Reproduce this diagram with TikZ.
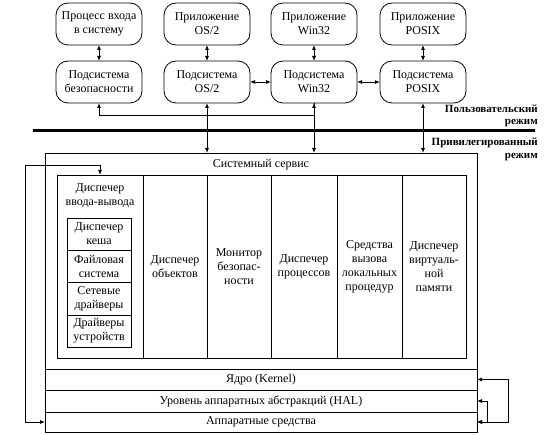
\documentclass[tikz,border=0pt]{standalone}
\usepackage{fontspec}
\setmainfont{Liberation Serif}
\usetikzlibrary{arrows.meta}
\begin{document}
\begin{tikzpicture}[x=1pt,y=-1pt,
  txt/.style={font=\fontsize{12}{14}\selectfont, align=center},
  rbox/.style={txt, draw, line width=0.8pt, rounded corners=12pt, minimum width=86pt, minimum height=42pt, inner sep=0pt, outer sep=0pt},
  sq/.style={txt, draw, line width=0.8pt, inner sep=0pt, outer sep=0pt},
  arr/.style={line width=0.8pt, {Latex[length=5pt,width=4pt]}-{Latex[length=5pt,width=4pt]}},
  arrs/.style={line width=0.8pt, {Latex[length=5pt,width=4pt]}-},
  mode/.style={font=\bfseries\fontsize{11}{14}\selectfont, anchor=east, inner sep=0pt}
]
\useasboundingbox (0,0) rectangle (549,435);
% top row
\node[rbox] (login) at (99,24) {Процесс входа\\в систему};
\node[rbox] (os2a)  at (207,24) {Приложение\\OS/2};
\node[rbox] (w32a)  at (314,24) {Приложение\\Win32};
\node[rbox] (posa)  at (423,24) {Приложение\\POSIX};
% second row
\node[rbox] (sec)  at (99,82) {Подсистема\\безопасности};
\node[rbox] (os2s) at (207,82) {Подсистема\\OS/2};
\node[rbox] (w32s) at (314,82) {Подсистема\\Win32};
\node[rbox] (poss) at (423,82) {Подсистема\\POSIX};
% system service frame
\node[sq, minimum width=432pt, minimum height=279pt, anchor=north west] (svc) at (45,153) {};
\node[txt] (svct) at (261,165) {Системный сервис};
% columns
\node[sq, minimum width=86pt, minimum height=183pt, anchor=north west] (io) at (57,175) {};
\node[txt, anchor=north] (iot) at (100,180) {Диспечер\\ввода-вывода};
\node[sq, minimum width=64pt, minimum height=32pt, anchor=north west] (cache) at (67,218) {Диспечер\\кеша};
\node[sq, minimum width=64pt, minimum height=32pt, anchor=north west] (fs) at (67,250) {Файловая\\система};
\node[sq, minimum width=64pt, minimum height=33pt, anchor=north west] (net) at (67,282) {Сетевые\\драйверы};
\node[sq, minimum width=64pt, minimum height=32pt, anchor=north west] (dev) at (67,315) {Драйверы\\устройств};
\node[sq, minimum width=64pt, minimum height=183pt, anchor=north west] (obj) at (143,175) {Диспечер\\объектов};
\node[sq, minimum width=64pt, minimum height=183pt, anchor=north west] (secmon) at (207,175) {Монитор\\безопас-\\ности};
\node[sq, minimum width=66pt, minimum height=183pt, anchor=north west] (proc) at (271,175) {Диспечер\\процессов};
\node[sq, minimum width=65pt, minimum height=183pt, anchor=north west] (lpc) at (337,175) {Средства\\вызова\\локальных\\процедур};
\node[sq, minimum width=64pt, minimum height=183pt, anchor=north west] (vm) at (402,175) {Диспечер\\виртуаль-\\ной\\памяти};
% layers
\node[sq, minimum width=432pt, minimum height=21pt, anchor=north west] (kern) at (45,369) {Ядро (Kernel)};
\node[sq, minimum width=432pt, minimum height=22pt, anchor=north west] (hal) at (45,390) {Уровень аппаратных абстракций (HAL)};
\node[sq, minimum width=432pt, minimum height=20pt, anchor=north west] (hw) at (45,412) {Аппаратные средства};
% mode line and labels
\coordinate (ml) at (33,131);
\coordinate (mr) at (535,131);
\draw[line width=3pt] (ml) -- (mr);
\node[mode] (um1) at (538,109) {Пользовательский};
\node[mode] (um2) at (538,123) {режим};
\node[mode] (pm1) at (538,143) {Привилегированный};
\node[mode] (pm2) at (538,157) {режим};
% connectors
\draw[arr] (login) -- (sec);
\draw[arr] (os2a) -- (os2s);
\draw[arr] (w32a) -- (w32s);
\draw[arr] (posa) -- (poss);
\draw[arr] (os2s) -- (w32s);
\draw[arr] (w32s) -- (poss);
\draw[arr] (os2s.south) -- (os2s.south |- svc.north);
\draw[arr] (w32s.south) -- (w32s.south |- svc.north);
\draw[arr] (poss.south) -- (poss.south |- svc.north);
\draw[arrs] (sec.south) -- ++(0,12) -| (w32s.south);
\draw[arr] (io.north) |- (25,165) |- (hw.west);
\draw[arr] (kern.east) -- ++(31,0) |- (hw.east);
\draw[arr] (hal.east) -- ++(10,0) |- (hw.east);
\end{tikzpicture}
\end{document}
